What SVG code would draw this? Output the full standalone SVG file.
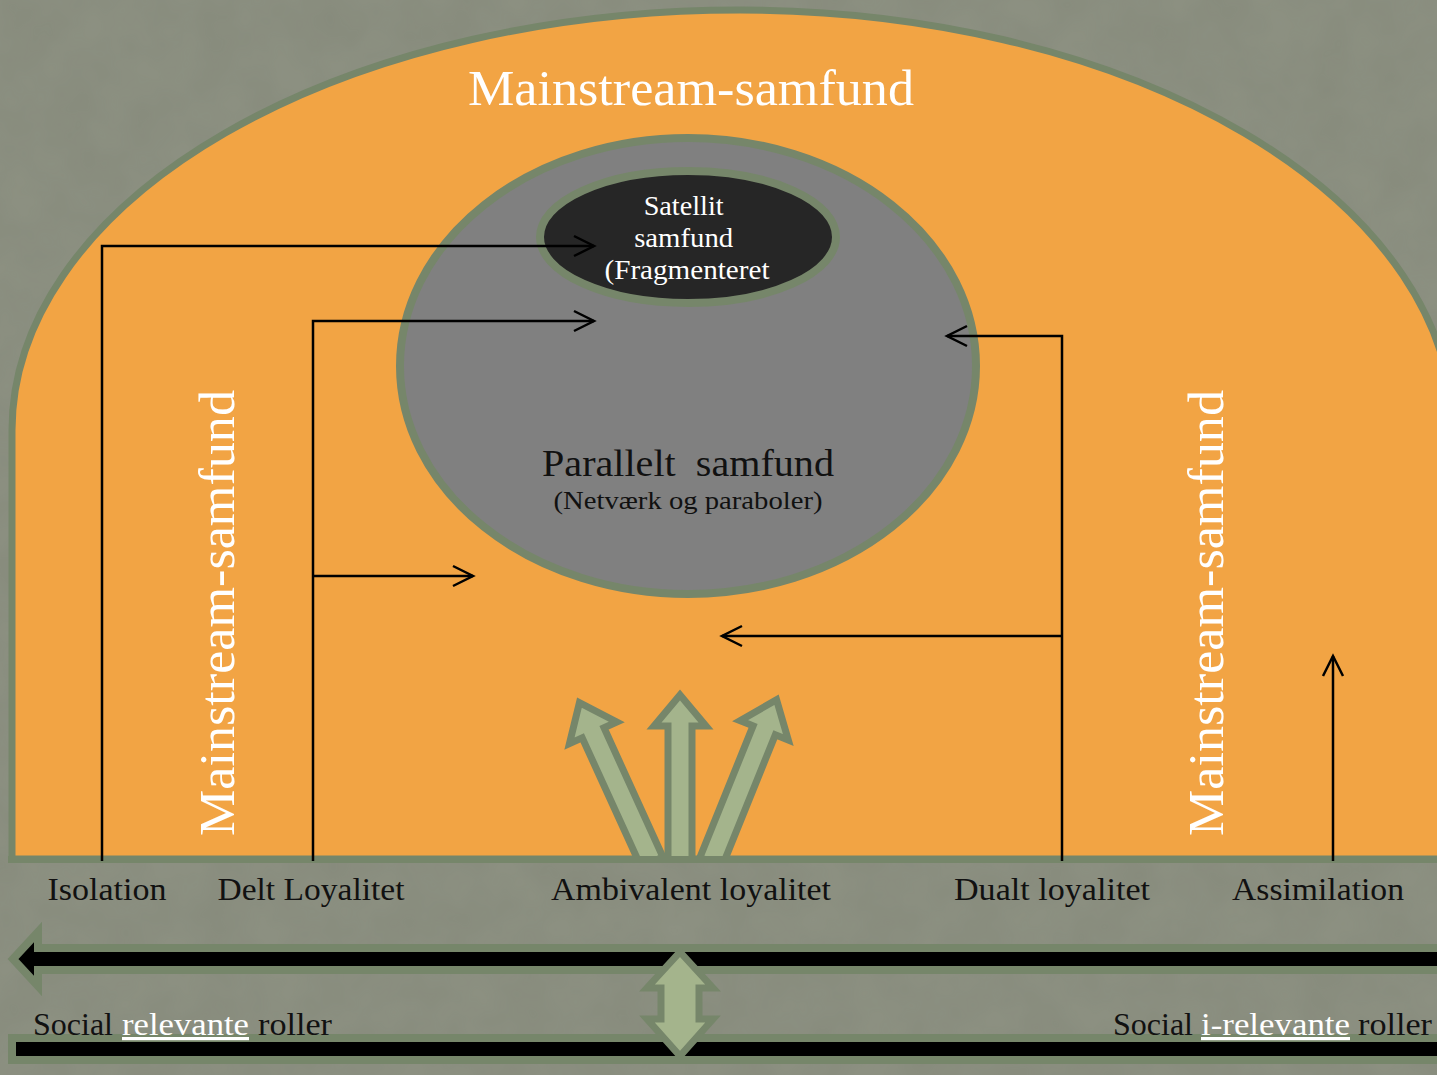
<svg xmlns="http://www.w3.org/2000/svg" width="1437" height="1075" viewBox="0 0 1437 1075">
<style>
.conn{fill:none;stroke:#000;stroke-width:2.5;marker-end:url(#chev)}
.lbl{font-family:"Liberation Serif","Times New Roman",serif;fill:#111;font-size:32px}
.wt{font-family:"Liberation Serif","Times New Roman",serif;fill:#fff}
.blk{fill:#a4b48c;stroke:#76866a;stroke-width:7;stroke-linejoin:miter}
.bar{fill:#000;stroke:#76866a;stroke-width:8}
</style>
<defs>
<marker id="chev" markerUnits="userSpaceOnUse" markerWidth="26" markerHeight="26" viewBox="-22 -12 26 24" refX="0" refY="0" orient="auto">
<path d="M-20,-10 L0,0 L-20,10" fill="none" stroke="#000" stroke-width="2.5"/>
</marker>
<clipPath id="above"><rect x="0" y="0" width="1437" height="858"/></clipPath>
<filter id="tex" x="0" y="0" width="100%" height="100%">
<feTurbulence type="fractalNoise" baseFrequency="0.02" numOctaves="3" seed="4"/>
<feColorMatrix type="matrix" values="0 0 0 0 0.45  0 0 0 0 0.47  0 0 0 0 0.40  0 0 0 0.25 0"/>
</filter>
</defs>
<rect width="1437" height="1075" fill="#878b7c"/>
<rect width="1437" height="1075" filter="url(#tex)" opacity="0.6"/>

<g id="mainstream">
<path d="M12,859 L12,430 A728,420 0 0 1 740,10 A713,420 0 0 1 1453,430 L1453,859 Z" fill="#f2a444" stroke="#76866a" stroke-width="7"/>
<text class="wt" x="691" y="105" font-size="50" text-anchor="middle" textLength="446" lengthAdjust="spacingAndGlyphs">Mainstream-samfund</text>
<text class="wt" transform="translate(234,613) rotate(-90)" font-size="50" text-anchor="middle" textLength="446" lengthAdjust="spacingAndGlyphs">Mainstream-samfund</text>
<text class="wt" transform="translate(1223,613) rotate(-90)" font-size="50" text-anchor="middle" textLength="446" lengthAdjust="spacingAndGlyphs">Mainstream-samfund</text>
</g>

<g id="parallelt">
<ellipse cx="688" cy="366" rx="288" ry="228" fill="#808080" stroke="#76866a" stroke-width="8"/>
<text x="688" y="476" font-family="Liberation Serif, serif" font-size="38" fill="#111" text-anchor="middle" style="white-space:pre" textLength="292" lengthAdjust="spacingAndGlyphs">Parallelt  samfund</text>
<text x="688" y="509" font-family="Liberation Serif, serif" font-size="26" fill="#111" text-anchor="middle" textLength="269" lengthAdjust="spacingAndGlyphs">(Netværk og paraboler)</text>
</g>

<g id="satellit">
<ellipse cx="688" cy="237" rx="148" ry="66" fill="#262626" stroke="#76866a" stroke-width="8"/>
<text class="wt" font-size="27" text-anchor="middle">
<tspan x="687" y="215" textLength="80" lengthAdjust="spacingAndGlyphs">Satellit</tspan>
<tspan x="687" y="247" textLength="99" lengthAdjust="spacingAndGlyphs">samfund</tspan>
<tspan x="687" y="279" textLength="165" lengthAdjust="spacingAndGlyphs">(Fragmenteret</tspan>
</text>
</g>

<g id="block-arrows" clip-path="url(#above)">
<path class="blk" transform="translate(652,862) rotate(-24.5)" d="M-12,0 L-12,-142 L-26,-142 L0,-175 L26,-142 L12,-142 L12,0 Z"/>
<path class="blk" transform="translate(711,862) rotate(22)" d="M-12,0 L-12,-142 L-26,-142 L0,-175 L26,-142 L12,-142 L12,0 Z"/>
<path class="blk" transform="translate(680,862)" d="M-12,0 L-12,-136 L-26,-136 L0,-167 L26,-136 L12,-136 L12,0 Z"/>
</g>
<line x1="8" y1="859.5" x2="1437" y2="859.5" stroke="#76866a" stroke-width="7"/>

<g id="connectors">
<path class="conn" d="M102,861 L102,246 L594,246"/>
<path class="conn" d="M313,861 L313,321 L594,321"/>
<path class="conn" d="M313,576 L473,576"/>
<path class="conn" d="M1062,861 L1062,336 L947,336"/>
<path class="conn" d="M1062,636 L722,636"/>
<path class="conn" d="M1333,861 L1333,656"/>
</g>

<g id="labels">
<text class="lbl" x="107" y="900" text-anchor="middle" textLength="119" lengthAdjust="spacingAndGlyphs">Isolation</text>
<text class="lbl" x="311" y="900" text-anchor="middle" textLength="187" lengthAdjust="spacingAndGlyphs">Delt Loyalitet</text>
<text class="lbl" x="691" y="900" text-anchor="middle" textLength="280" lengthAdjust="spacingAndGlyphs">Ambivalent loyalitet</text>
<text class="lbl" x="1052" y="900" text-anchor="middle" textLength="196" lengthAdjust="spacingAndGlyphs">Dualt loyalitet</text>
<text class="lbl" x="1318" y="900" text-anchor="middle" textLength="172" lengthAdjust="spacingAndGlyphs">Assimilation</text>
</g>

<g id="scale-bars">
<path class="bar" d="M1450,948 L38,948 L38,932 L13,959 L38,986 L38,970 L1450,970 Z"/>
<rect class="bar" x="12" y="1038" width="1440" height="22"/>
</g>

<g id="double-arrow">
<path class="blk" stroke-width="9" d="M680,952 L713,988 L699,988 L699,1019 L713,1019 L680,1056 L647,1019 L661,1019 L661,988 L647,988 Z"/>
</g>

<g id="role-labels">
<text class="lbl" y="1035" font-size="30"><tspan x="33" textLength="80" lengthAdjust="spacingAndGlyphs">Social</tspan><tspan x="122" fill="#fff" text-decoration="underline" textLength="127" lengthAdjust="spacingAndGlyphs">relevante</tspan><tspan x="258" textLength="74" lengthAdjust="spacingAndGlyphs">roller</tspan></text>
<text class="lbl" y="1035" font-size="30"><tspan x="1113" textLength="80" lengthAdjust="spacingAndGlyphs">Social</tspan><tspan x="1201" fill="#fff" text-decoration="underline" textLength="149" lengthAdjust="spacingAndGlyphs">i-relevante</tspan><tspan x="1358" textLength="74" lengthAdjust="spacingAndGlyphs">roller</tspan></text>
</g>
</svg>
